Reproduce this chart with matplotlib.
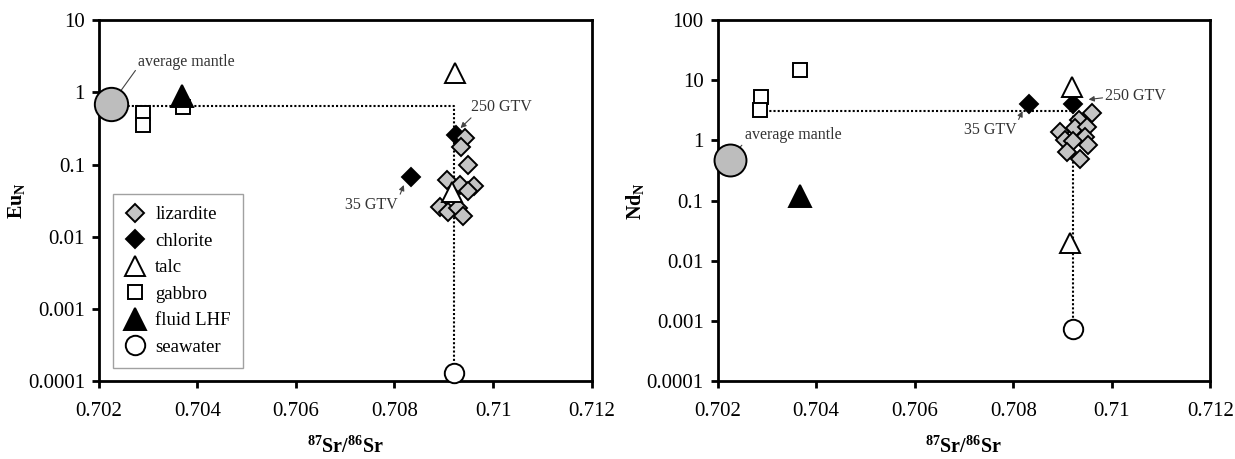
import matplotlib
matplotlib.use("Agg")
import matplotlib.pyplot as plt
from matplotlib.ticker import FixedLocator, FuncFormatter, NullLocator

plt.rcParams['font.family'] = ['Liberation Serif', 'DejaVu Serif']
plt.rcParams['mathtext.fontset'] = 'custom'
plt.rcParams['mathtext.rm'] = 'Liberation Serif'
plt.rcParams['mathtext.bf'] = 'Liberation Serif:bold'
plt.rcParams['mathtext.it'] = 'Liberation Serif:italic'
plt.rcParams['mathtext.default'] = 'bf'

# ---------------- data: Eu_N panel ----------------
eu_liz_x = [0.70944, 0.70936, 0.70949, 0.70906, 0.70934, 0.70961, 0.70950,
            0.70892, 0.70908, 0.70928, 0.70939]
eu_liz_y = [0.231, 0.177, 0.100, 0.061, 0.052, 0.050, 0.043,
            0.0255, 0.0218, 0.0247, 0.0194]
eu_chl_x = [0.70833, 0.70924]
eu_chl_y = [0.068, 0.256]
eu_talc_x = [0.70923, 0.70916]
eu_talc_y = [1.83, 0.042]
eu_gab_x = [0.70289, 0.70289, 0.70370]
eu_gab_y = [0.51, 0.35, 0.62]
eu_fluid_x = [0.70369]
eu_fluid_y = [0.88]
eu_sw_x = [0.70921]
eu_sw_y = [0.000131]
eu_mantle_x = [0.70225]
eu_mantle_y = [0.70]
eu_path_x = [0.70225, 0.70921, 0.70921]
eu_path_y = [0.65, 0.65, 0.000131]

# ---------------- data: Nd_N panel ----------------
nd_liz_x = [0.70960, 0.70934, 0.70925, 0.70949, 0.70895, 0.70946, 0.70905,
            0.70922, 0.70952, 0.70909, 0.70936]
nd_liz_y = [2.81, 2.18, 1.64, 1.68, 1.39, 1.12, 1.01,
            0.985, 0.835, 0.65, 0.50]
nd_chl_x = [0.70833, 0.70922]
nd_chl_y = [4.0, 4.1]
nd_talc_x = [0.70920, 0.70916]
nd_talc_y = [7.8, 0.0194]
nd_gab_x = [0.70289, 0.70287, 0.70368]
nd_gab_y = [5.3, 3.2, 15.1]
nd_fluid_x = [0.70368]
nd_fluid_y = [0.12]
nd_sw_x = [0.70922]
nd_sw_y = [0.00072]
nd_mantle_x = [0.70225]
nd_mantle_y = [0.48]
nd_path_x = [0.70289, 0.70922, 0.70922]
nd_path_y = [3.07, 3.07, 0.00072]

x_ticks = [0.702, 0.704, 0.706, 0.708, 0.710, 0.712]
eu_yticks = [1e-4, 1e-3, 1e-2, 1e-1, 1, 10]
nd_yticks = [1e-4, 1e-3, 1e-2, 1e-1, 1, 10, 100]

series_labels = ['lizardite', 'chlorite', 'talc', 'gabbro', 'fluid LHF', 'seawater']

fig = plt.figure(figsize=(12.35, 4.59), dpi=100)
axL = fig.add_axes([0.080, 0.170, 0.399, 0.786])
axR = fig.add_axes([0.581, 0.170, 0.399, 0.786])

GRAY = '#c4c4c4'
EW = 1.4


def draw(ax, d, yticks, ylim, ylabel, legend):
    ax.plot(d['path_x'], d['path_y'], color='black', lw=1.5,
            linestyle=(0, (1, 1)), zorder=1)
    ax.plot(d['chl_x'], d['chl_y'], 'D', ms=9.5, mfc='black', mec='black',
            mew=EW, ls='none', zorder=3, label=series_labels[1])
    ax.plot(d['liz_x'], d['liz_y'], 'D', ms=9.5, mfc=GRAY, mec='black',
            mew=EW, ls='none', zorder=4, label=series_labels[0])
    ax.plot(d['talc_x'], d['talc_y'], '^', ms=14, mfc='white', mec='black',
            mew=EW, ls='none', zorder=5, label=series_labels[2])
    ax.plot(d['gab_x'], d['gab_y'], 's', ms=10, mfc='white', mec='black',
            mew=EW, ls='none', zorder=5, label=series_labels[3])
    ax.plot(d['fluid_x'], d['fluid_y'], '^', ms=16.5, mfc='black', mec='black',
            mew=EW, ls='none', zorder=5, label=series_labels[4])
    ax.plot(d['sw_x'], d['sw_y'], 'o', ms=14, mfc='white', mec='black',
            mew=EW, ls='none', zorder=5, label=series_labels[5], clip_on=False)
    ax.plot(d['mantle_x'], d['mantle_y'], 'o', ms=d['mantle_ms'], mfc='#bdbdbd',
            mec='black', mew=EW, ls='none', zorder=5, clip_on=False)

    ax.set_yscale('log')
    ax.set_xlim(0.702, 0.712)
    ax.set_ylim(*ylim)
    ax.xaxis.set_major_locator(FixedLocator(x_ticks))
    ax.xaxis.set_major_formatter(FuncFormatter(lambda v, p: '%g' % round(v, 4)))
    ax.yaxis.set_major_locator(FixedLocator(yticks))
    ax.yaxis.set_minor_locator(NullLocator())
    ax.yaxis.set_major_formatter(FuncFormatter(lambda v, p: '%g' % v))
    for s in ax.spines.values():
        s.set_linewidth(2.0)
        s.set_color('black')
    ax.tick_params(axis='both', which='major', direction='out', length=5,
                   width=2.0, labelsize=15, color='black')
    ax.tick_params(axis='x', pad=10)
    ax.tick_params(axis='y', pad=5)
    ax.set_xlabel('$^{87}$Sr/$^{86}$Sr', fontsize=14.5, fontweight='bold')
    ax.set_ylabel(ylabel, fontsize=14.5, fontweight='bold')
    ax.xaxis.set_label_coords(0.5, -0.155)
    ax.yaxis.set_label_coords(-0.145, 0.5)

    if legend:
        h, l = ax.get_legend_handles_labels()
        order = [l.index(s) for s in series_labels]
        leg = ax.legend([h[i] for i in order], [l[i] for i in order],
                        loc='lower left', bbox_to_anchor=(0.029, 0.036),
                        bbox_transform=ax.transAxes, borderaxespad=0,
                        frameon=True, fancybox=False, fontsize=13.5,
                        handlelength=1.0, handletextpad=0.6, borderpad=0.65,
                        labelspacing=0.5, numpoints=1)
        leg.get_frame().set_edgecolor('#8a8a8a')
        leg.get_frame().set_linewidth(1.0)


dL = dict(liz_x=eu_liz_x, liz_y=eu_liz_y, chl_x=eu_chl_x, chl_y=eu_chl_y,
          talc_x=eu_talc_x, talc_y=eu_talc_y, gab_x=eu_gab_x, gab_y=eu_gab_y,
          fluid_x=eu_fluid_x, fluid_y=eu_fluid_y, sw_x=eu_sw_x, sw_y=eu_sw_y,
          mantle_x=eu_mantle_x, mantle_y=eu_mantle_y, mantle_ms=24,
          path_x=eu_path_x, path_y=eu_path_y)
dR = dict(liz_x=nd_liz_x, liz_y=nd_liz_y, chl_x=nd_chl_x, chl_y=nd_chl_y,
          talc_x=nd_talc_x, talc_y=nd_talc_y, gab_x=nd_gab_x, gab_y=nd_gab_y,
          fluid_x=nd_fluid_x, fluid_y=nd_fluid_y, sw_x=nd_sw_x, sw_y=nd_sw_y,
          mantle_x=nd_mantle_x, mantle_y=nd_mantle_y, mantle_ms=23,
          path_x=nd_path_x, path_y=nd_path_y)

draw(axL, dL, eu_yticks, (1e-4, 10), 'Eu$_{N}$', True)
draw(axR, dR, nd_yticks, (1e-4, 100), 'Nd$_{N}$', False)

arrow = dict(arrowstyle='-|>', color='#444444', lw=0.8, mutation_scale=8,
             shrinkA=0, shrinkB=0)
afont = dict(fontsize=11.5, color='#333333')

# left annotations
axL.annotate('average mantle', xy=(0.70231, 0.78), xytext=(0.70280, 2.65),
             ha='left', va='center', arrowprops=dict(arrow, relpos=(0, 0.2)), **afont)
axL.annotate('250 GTV', xy=(0.70934, 0.32), xytext=(0.70955, 0.625),
             ha='left', va='center', arrowprops=dict(arrow, relpos=(0.05, 0.0)), **afont)
axL.annotate('35 GTV', xy=(0.70819, 0.052), xytext=(0.70700, 0.0275),
             ha='left', va='center', arrowprops=dict(arrow, relpos=(1.0, 0.8)), **afont)

# right annotations
axR.annotate('average mantle', xy=(0.70231, 0.57), xytext=(0.70255, 1.22),
             ha='left', va='center', arrowprops=dict(arrow, relpos=(0.02, 0.2)), **afont)
axR.annotate('250 GTV', xy=(0.70953, 4.8), xytext=(0.70987, 5.5),
             ha='left', va='center', arrowprops=dict(arrow, relpos=(0, 0.4)), **afont)
axR.annotate('35 GTV', xy=(0.70819, 3.07), xytext=(0.70700, 1.48),
             ha='left', va='center', arrowprops=dict(arrow, relpos=(1.0, 0.9)), **afont)

fig.savefig('out.png', dpi=100)
